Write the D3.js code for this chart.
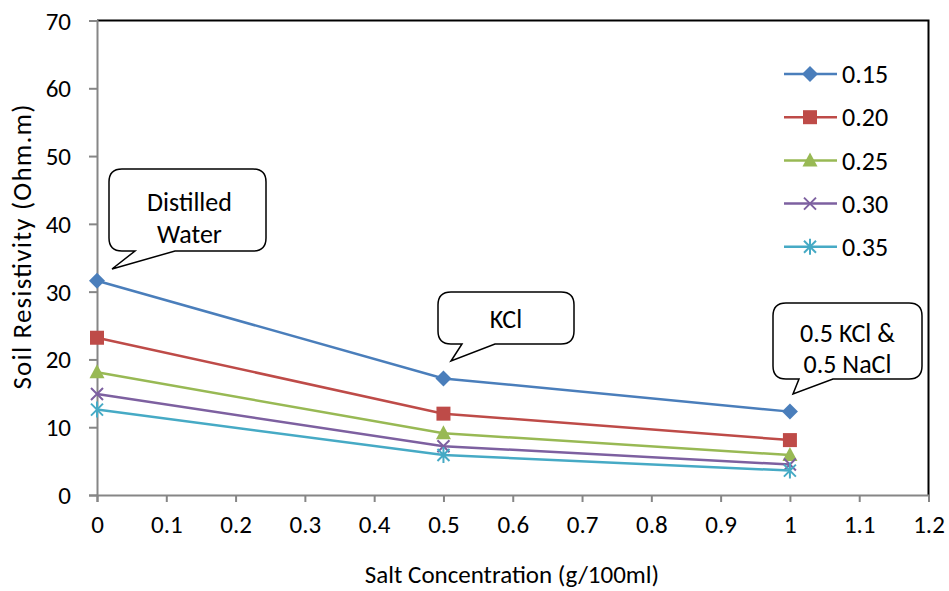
<!DOCTYPE html>
<html>
<head>
<meta charset="utf-8">
<script src="https://cdn.jsdelivr.net/npm/d3@7/dist/d3.min.js"></script>
<style>
  html, body { margin: 0; padding: 0; background: #fff; }
  svg { display: block; }
  text { font-family: Carlito, Calibri, Lato, "Open Sans", sans-serif; fill: #000; }
</style>
</head>
<body>
<svg id="chart" width="949" height="591"></svg>
<script>
// ---- Data ----
const concentrations = [0, 0.5, 1];
const seriesNames = ["0.15", "0.20", "0.25", "0.30", "0.35"];
const s015 = [31.6, 17.2, 12.3];
const s020 = [23.2, 12.0, 8.1];
const s025 = [18.1, 9.1, 5.9];
const s030 = [14.9, 7.2, 4.5];
const s035 = [12.6, 5.9, 3.6];
const xTicks = [0, 0.1, 0.2, 0.3, 0.4, 0.5, 0.6, 0.7, 0.8, 0.9, 1, 1.1, 1.2];
const yTicks = [0, 10, 20, 30, 40, 50, 60, 70];
const calloutLabels = [["Distilled", "Water"], ["KCl"], ["0.5 KCl &", "0.5 NaCl"]];

const seriesValues = [s015, s020, s025, s030, s035];
const colors = ["#4A7EBB", "#BE4B48", "#98B954", "#7D60A0", "#46AAC5"];
const markers = ["diamond", "square", "triangle", "x", "star"];

const svg = d3.select("#chart");
const x = d3.scaleLinear().domain([0, 1.2]).range([97, 928.5]);
const y = d3.scaleLinear().domain([0, 70]).range([495, 20.5]);

// Plot border (top & right black)
svg.append("path")
  .attr("d", `M${x(0)},${y(70)}H${x(1.2)}V${y(0)}`)
  .attr("fill", "none").attr("stroke", "#000").attr("stroke-width", 2);

// Axes
const yAxis = d3.axisLeft(y).tickValues(yTicks).tickSize(8).tickFormat(d3.format("d"));
const xAxis = d3.axisBottom(x).tickValues(xTicks).tickSize(7).tickFormat(d => d3.format("")(d));

const gy = svg.append("g").attr("transform", `translate(${x(0)},0)`).call(yAxis);
const gx = svg.append("g").attr("transform", `translate(0,${y(0)})`).call(xAxis);
[gx, gy].forEach(g => {
  g.attr("font-family", null).attr("font-size", null);
  g.select(".domain").attr("stroke", "#868686").attr("stroke-width", 2);
  g.selectAll(".tick line").attr("stroke", "#868686").attr("stroke-width", 2);
  g.selectAll(".tick text").attr("font-size", 25).attr("fill", "#000");
});
gy.selectAll(".tick text").attr("x", -26).attr("dy", "0.34em");
gx.selectAll(".tick text").attr("y", 20).attr("dy", "0.71em");

// Axis titles
svg.append("text").attr("x", 512).attr("y", 583).attr("text-anchor", "middle")
  .attr("font-size", 25).text("Salt Concentration (g/100ml)");
svg.append("text").attr("transform", "translate(31,247) rotate(-90)").attr("text-anchor", "middle")
  .attr("font-size", 27).attr("textLength", 285).attr("lengthAdjust", "spacing")
  .text("Soil Resistivity (Ohm.m)");

// Marker drawing
function drawMarker(g, type, color, cx, cy) {
  if (type === "diamond") {
    g.append("path").attr("d", `M${cx},${cy-8}L${cx+8},${cy}L${cx},${cy+8}L${cx-8},${cy}Z`).attr("fill", color);
  } else if (type === "square") {
    g.append("rect").attr("x", cx-7).attr("y", cy-7).attr("width", 14).attr("height", 14).attr("fill", color);
  } else if (type === "triangle") {
    g.append("path").attr("d", `M${cx},${cy-8}L${cx+7.5},${cy+6}L${cx-7.5},${cy+6}Z`).attr("fill", color);
  } else if (type === "x") {
    g.append("path").attr("d", `M${cx-6},${cy-6}L${cx+6},${cy+6}M${cx-6},${cy+6}L${cx+6},${cy-6}`)
      .attr("stroke", color).attr("stroke-width", 2).attr("fill", "none");
  } else if (type === "star") {
    g.append("path").attr("d", `M${cx-6},${cy-6}L${cx+6},${cy+6}M${cx-6},${cy+6}L${cx+6},${cy-6}M${cx},${cy-8}V${cy+8}`)
      .attr("stroke", color).attr("stroke-width", 2).attr("fill", "none");
  }
}

// Series
const line = d3.line().x((d, i) => x(concentrations[i])).y(d => y(d));
seriesValues.forEach((vals, si) => {
  const g = svg.append("g");
  g.append("path").datum(vals).attr("d", line)
    .attr("fill", "none").attr("stroke", colors[si]).attr("stroke-width", 2.5);
  vals.forEach((v, i) => drawMarker(g, markers[si], colors[si], x(concentrations[i]), y(v)));
});

// Legend
seriesNames.forEach((name, i) => {
  const ly = 74 + i * 43.2;
  const g = svg.append("g");
  g.append("line").attr("x1", 784).attr("x2", 837).attr("y1", ly).attr("y2", ly)
    .attr("stroke", colors[i]).attr("stroke-width", 2.5);
  drawMarker(g, markers[i], colors[i], 810, ly);
  g.append("text").attr("x", 842).attr("y", ly).attr("dy", "0.35em").attr("font-size", 26).text(name);
});

// Callouts
const callouts = [
  { box: [109, 169, 266, 251], base: [135, 175], tip: [112, 269], lines: [211, 243] },
  { box: [438, 292, 574, 344], base: [462, 495], tip: [451, 361], lines: [328] },
  { box: [773, 303, 922, 379], base: [799, 833], tip: [793, 394], lines: [342, 373] }
];
callouts.forEach((c, ci) => {
  const [l, t, r, b] = c.box, rad = 13;
  const d = `M${l+rad},${t}H${r-rad}Q${r},${t} ${r},${t+rad}V${b-rad}Q${r},${b} ${r-rad},${b}` +
    `H${c.base[1]}L${c.tip[0]},${c.tip[1]}L${c.base[0]},${b}` +
    `H${l+rad}Q${l},${b} ${l},${b-rad}V${t+rad}Q${l},${t} ${l+rad},${t}Z`;
  svg.append("path").attr("d", d).attr("fill", "#fff").attr("stroke", "#000").attr("stroke-width", 1.5);
  calloutLabels[ci].forEach((txt, li) => {
    svg.append("text").attr("x", (l + r) / 2 + (ci === 0 ? 2 : 0)).attr("y", c.lines[li])
      .attr("text-anchor", "middle").attr("font-size", 26).text(txt);
  });
});
</script>
</body>
</html>
